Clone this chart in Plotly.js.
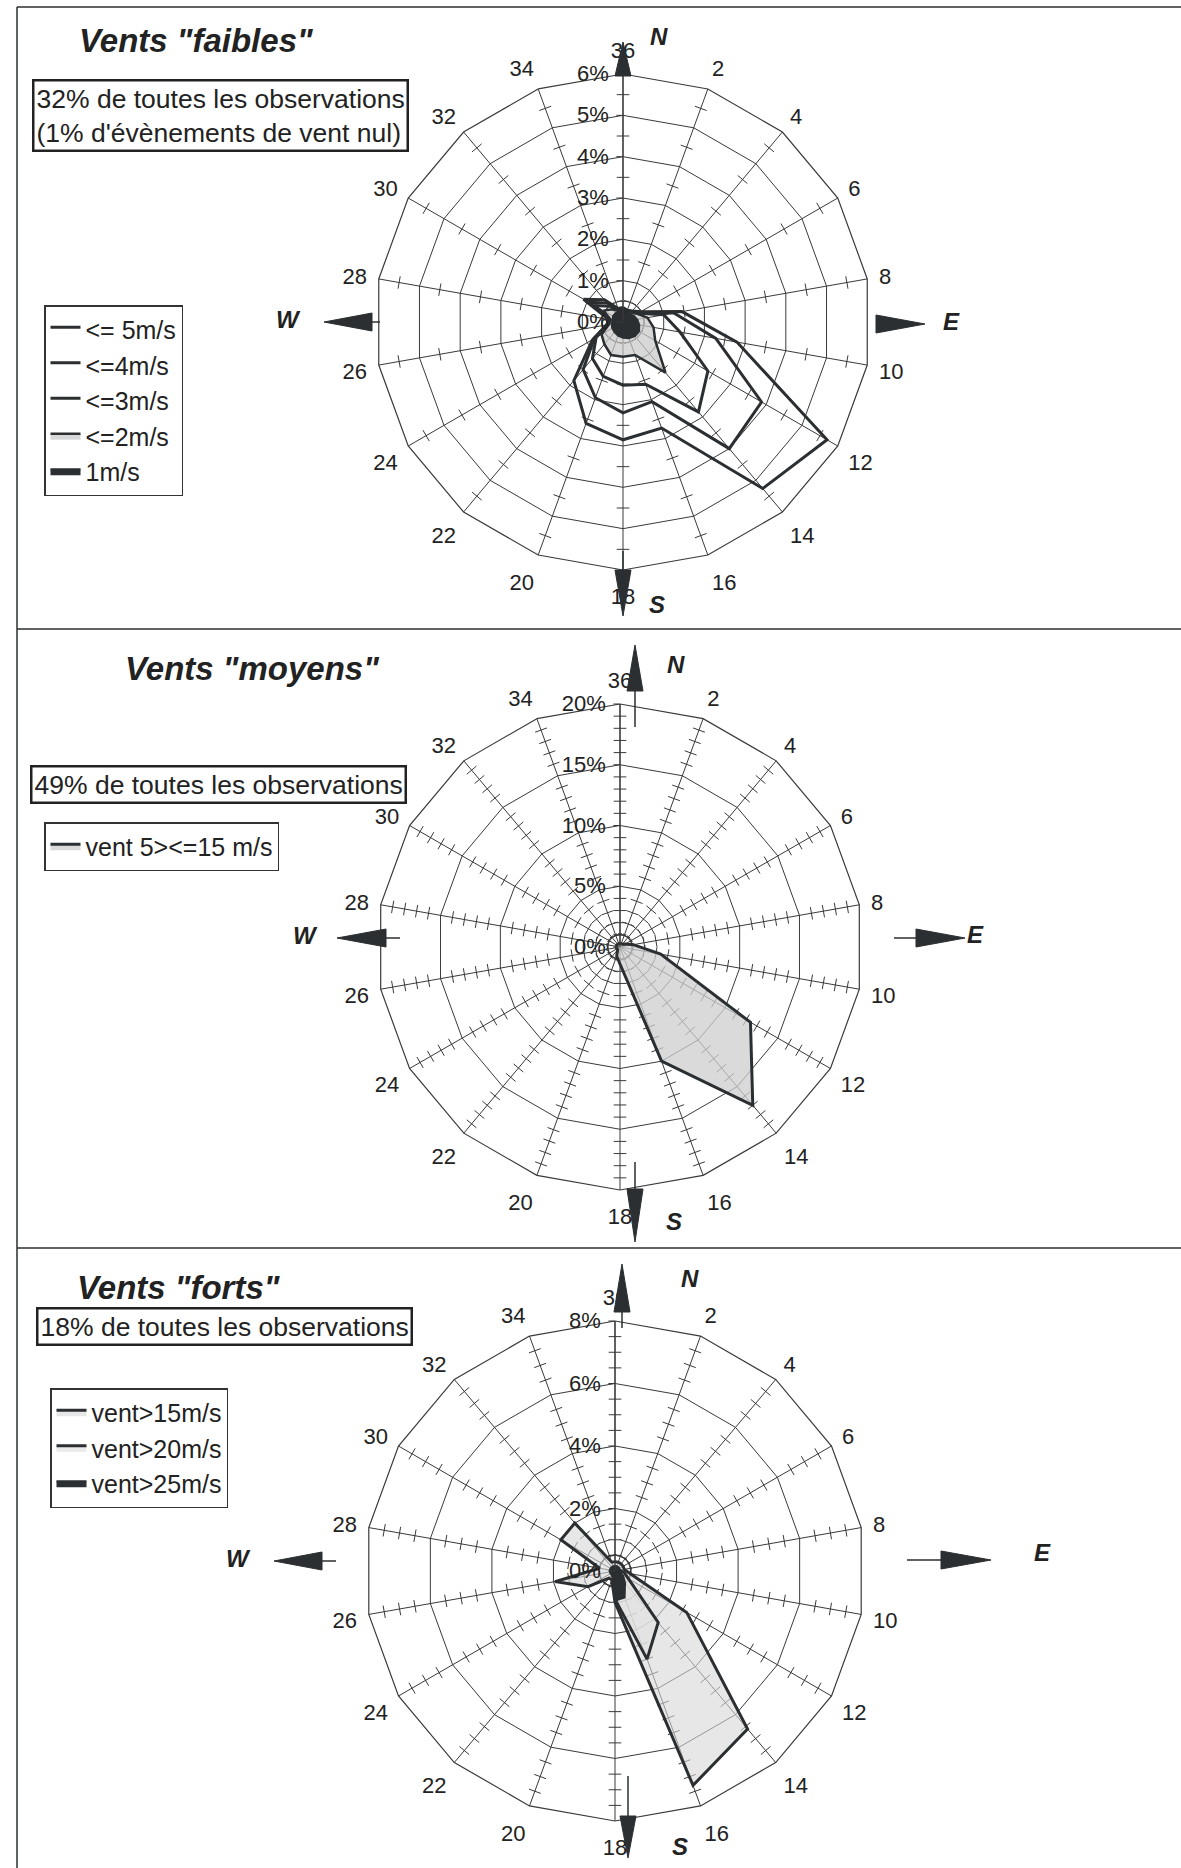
<!DOCTYPE html>
<html><head><meta charset="utf-8">
<script src="https://cdn.plot.ly/plotly-3.0.1.min.js"></script>
<style>html,body{margin:0;padding:0;background:#fff}#chart{width:1181px;height:1868px}</style>
</head><body><div id="chart"></div>
<script>
// Wind directions (tens of degrees), clockwise from north
const directions = ["36","2","4","6","8","10","12","14","16","18","20","22","24","26","28","30","32","34"];

// Vents "faibles" (% of observations, cumulative speed classes)
const faiblesLe5 = [0.35,0.3,0.35,0.5,1.45,2.8,5.7,5.26,2.73,2.85,2.61,1.85,0.85,0.4,0.35,1.1,0.7,0.35];
const faiblesLe4 = [0.3,0.3,0.3,0.45,1.25,2.28,3.87,4.0,2.05,2.2,1.95,1.5,0.8,0.4,0.3,0.95,0.6,0.3];
const faiblesLe3 = [0.3,0.3,0.3,0.42,1.0,1.4,2.37,2.84,1.6,1.53,1.4,1.15,0.75,0.38,0.3,0.8,0.5,0.3];
const faiblesLe2 = [0.28,0.28,0.3,0.4,0.6,0.75,0.9,1.6,0.85,0.84,0.85,0.7,0.6,0.35,0.3,0.55,0.4,0.28];
const faibles1ms = [0.25,0.25,0.25,0.3,0.35,0.4,0.45,0.45,0.42,0.38,0.35,0.32,0.3,0.28,0.25,0.28,0.28,0.25];

// Vents "moyens" (%)
const moyens5a15 = [0.3,0.3,0.3,0.5,1.1,3.4,12.4,17.0,10.0,1.4,0.8,0.3,0.3,0.3,0.3,0.3,0.3,0.3];

// Vents "forts" (%)
const fortsGt15 = [0.3,0.3,0.3,0.3,0.3,0.5,2.65,6.6,7.3,1.0,0.3,0.3,1.0,1.95,0.5,2.0,2.0,0.3];
const fortsGt20 = [0.15,0.15,0.15,0.15,0.15,0.3,0.5,2.15,3.0,0.9,0.2,0.15,0.15,0.15,0.15,0.15,0.15,0.15];
const fortsGt25 = [0.1,0.1,0.1,0.1,0.1,0.15,0.3,0.5,0.9,0.95,0.15,0.1,0.1,0.1,0.1,0.1,0.1,0.1];

// Radial ticks
const faiblesTickVals = [0,1,2,3,4,5,6];
const faiblesTickText = ["0%","1%","2%","3%","4%","5%","6%"];
const faiblesMinor = [0.5,1.5,2.5,3.5,4.5,5.5];
const moyensTickVals = [0,1,5,10,15,20];
const moyensTickText = ["0%","","5%","10%","15%","20%"];
const moyensMinor = [1,2,3,4,6,7,8,9,11,12,13,14,16,17,18,19];
const fortsTickVals = [0,0.5,2,4,6,8];
const fortsTickText = ["0%","","2%","4%","6%","8%"];
const fortsMinor = [0.5,1,1.5,2.5,3,3.5,4.5,5,5.5,6.5,7,7.5];

const W = 1181, H = 1868;
const FONT = "Liberation Sans, Arial, sans-serif";
const DARK = "#2b2f31";
const GRID = "#3a3a3a";
const px = x => x / W;
const py = y => 1 - y / H;

const P1 = {cx: 623, cy: 322, R: 248};
const P2 = {cx: 620, cy: 947, R: 243};
const P3 = {cx: 615, cy: 1571, R: 250};
const dom = c => ({x: [px(c.cx - c.R), px(c.cx + c.R)], y: [py(c.cy + c.R), py(c.cy - c.R)]});

const closeR = a => a.concat([a[0]]);
const thetaC = directions.concat([directions[0]]);

function spokeTicks(minor, subplot) {
  const r = [], t = [], a = [];
  directions.forEach(d => minor.forEach(v => { r.push(v); t.push(d); a.push((Number(d) * 10) % 360); }));
  return {type: "scatterpolar", subplot, r, theta: t, mode: "markers",
    marker: {symbol: "line-ew", size: 9, angle: a, color: GRID, line: {color: GRID, width: 1}},
    showlegend: false, hoverinfo: "skip"};
}
function series(vals, name, subplot, legend, fillcolor, width) {
  return {type: "scatterpolar", subplot, legend, r: closeR(vals), theta: thetaC, mode: "lines",
    fill: "toself", fillcolor, line: {color: DARK, width: width || 3}, name, hoverinfo: "skip"};
}

const data = [
  spokeTicks(faiblesMinor, "polar"),
  series(faiblesLe5, "&lt;= 5m/s", "polar", "legend", "rgba(255,255,255,0)"),
  series(faiblesLe4, "&lt;=4m/s", "polar", "legend", "rgba(255,255,255,0)"),
  series(faiblesLe3, "&lt;=3m/s", "polar", "legend", "rgba(255,255,255,0)"),
  series(faiblesLe2, "&lt;=2m/s", "polar", "legend", "rgba(200,200,200,0.7)", 2.5),
  series(faibles1ms, "1m/s", "polar", "legend", DARK, 2),
  spokeTicks(moyensMinor, "polar2"),
  series(moyens5a15, "vent 5&gt;&lt;=15 m/s", "polar2", "legend2", "rgba(205,205,205,0.75)"),
  spokeTicks(fortsMinor, "polar3"),
  series(fortsGt15, "vent&gt;15m/s", "polar3", "legend3", "rgba(215,215,215,0.6)"),
  series(fortsGt20, "vent&gt;20m/s", "polar3", "legend3", "rgba(225,225,225,0.7)"),
  series(fortsGt25, "vent&gt;25m/s", "polar3", "legend3", DARK, 2)
];

function polarLayout(c, range, tickvals, ticktext) {
  return {
    domain: dom(c), bgcolor: "#fff", gridshape: "linear", hole: 0,
    angularaxis: {type: "category", categoryarray: directions, rotation: 90, direction: "clockwise",
      showline: true, linecolor: GRID, linewidth: 1.2, gridcolor: GRID, gridwidth: 1,
      ticks: "outside", ticklen: 7, tickcolor: "rgba(0,0,0,0)",
      tickfont: {family: FONT, size: 22, color: "#222"}},
    radialaxis: {range, tickvals, ticktext, angle: 90, tickangle: 90, side: "counterclockwise", showline: true,
      linecolor: GRID, linewidth: 1.2, ticks: "outside", ticklen: 6, tickcolor: GRID,
      gridcolor: GRID, gridwidth: 1, tickfont: {family: FONT, size: 22, color: "#222"}}
  };
}

const shapes = [];
function line(x0, y0, x1, y1, w) {
  shapes.push({type: "line", xref: "paper", yref: "paper", x0: px(x0), y0: py(y0), x1: px(x1), y1: py(y1),
    line: {color: DARK, width: w || 1.5}});
}
function tri(pts) {
  const p = pts.map((q, i) => (i ? "L" : "M") + px(q[0]) + "," + py(q[1])).join(" ") + " Z";
  shapes.push({type: "path", xref: "paper", yref: "paper", path: p, fillcolor: DARK, line: {color: DARK, width: 1}});
}
// frame
line(17, 7, 17, H, 1.5);
line(17, 7, W, 7, 1.5);
line(17, 629, W, 629, 1.5);
line(17, 1248, W, 1248, 1.5);

// compass arrows
function upArrow(x, tip, base, hw) { tri([[x, tip], [x - hw, base], [x + hw, base]]); }
function downArrow(x, base, tip, hw) { tri([[x - hw, base], [x + hw, base], [x, tip]]); }
function rightArrow(y, base, tip, hh) { tri([[base, y - hh], [tip, y], [base, y + hh]]); }
function leftArrow(y, tip, base, hh) { tri([[tip, y], [base, y - hh], [base, y + hh]]); }
// panel 1
upArrow(623, 42, 76, 8);
line(623, 551, 623, 572, 1.5); downArrow(623, 570, 616, 8);
rightArrow(324, 876, 925, 9);
leftArrow(322, 324, 372, 9); line(372, 322, 380, 322, 1.5);
// panel 2
upArrow(635, 645, 691, 8); line(635, 691, 635, 727, 1.5);
line(635, 1162, 635, 1189, 1.5); downArrow(635, 1189, 1242, 8);
line(894, 938, 916, 938, 1.5); rightArrow(938, 916, 965, 9);
leftArrow(938, 337, 386, 9); line(386, 938, 400, 938, 1.5);
// panel 3
upArrow(622, 1264, 1312, 8); line(622, 1312, 622, 1328, 1.5);
line(628, 1776, 628, 1816, 1.5); downArrow(628, 1816, 1858, 8);
line(907, 1560, 941, 1560, 1.5); rightArrow(1560, 941, 991, 9);
leftArrow(1561, 274, 322, 9); line(322, 1561, 336, 1561, 1.5);

const annotations = [];
function txt(text, x, y, size, opts) {
  annotations.push(Object.assign({text, x: px(x), y: py(y), xref: "paper", yref: "paper", showarrow: false,
    font: {family: FONT, size, color: "#222"}, xanchor: "center", yanchor: "middle"}, opts || {}));
}
function box(text, x, y) {
  txt(text, x, y, 26.5, {xanchor: "left", yanchor: "top", align: "left", bordercolor: "#222", borderwidth: 2.5,
    borderpad: 2, bgcolor: "#fff"});
}
// titles
txt('<b><i>Vents "faibles"</i></b>', 77, 40, 33, {xanchor: "left"});
txt('<b><i>Vents "moyens"</i></b>', 123, 669, 33, {xanchor: "left"});
txt('<b><i>Vents "forts"</i></b>', 75, 1287, 33, {xanchor: "left"});
box("32% de toutes les observations<br>(1% d'évènements de vent nul)", 32, 79);
box("49% de toutes les observations", 30, 765);
box("18% de toutes les observations", 36, 1307);
// compass letters
const cl = (t, x, y) => txt("<b><i>" + t + "</i></b>", x, y, 24);
cl("N", 659, 36); cl("S", 657, 604); cl("E", 951, 322); cl("W", 288, 319);
cl("N", 676, 664); cl("S", 674, 1221); cl("E", 975, 934); cl("W", 305, 935);
cl("N", 690, 1278); cl("S", 680, 1846); cl("E", 1042, 1552); cl("W", 238, 1558);

const legendBase = {xanchor: "left", yanchor: "top", bordercolor: "#333", borderwidth: 1.5, bgcolor: "#fff",
  font: {family: FONT, size: 25, color: "#222"}, traceorder: "normal", itemwidth: 30};

const layout = {
  width: W, height: H, margin: {l: 0, r: 0, t: 0, b: 0}, paper_bgcolor: "#fff",
  font: {family: FONT, color: "#222"},
  polar: polarLayout(P1, [0, 6], faiblesTickVals, faiblesTickText),
  polar2: polarLayout(P2, [0, 20], moyensTickVals, moyensTickText),
  polar3: polarLayout(P3, [0, 8], fortsTickVals, fortsTickText),
  legend: Object.assign({x: px(44), y: py(305)}, legendBase),
  legend2: Object.assign({x: px(44), y: py(822)}, legendBase),
  legend3: Object.assign({x: px(50), y: py(1388)}, legendBase),
  shapes, annotations
};

Plotly.newPlot("chart", data, layout, {displayModeBar: false, staticPlot: true});
</script></body></html>
